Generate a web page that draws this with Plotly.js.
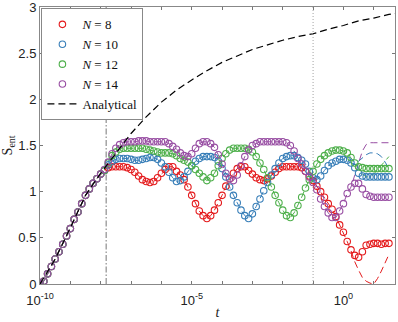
<!DOCTYPE html>
<html>
<head>
<meta charset="utf-8">
<script src="https://cdn.plot.ly/plotly-3.0.1.min.js"></script>
<style>
  body { margin: 0; background: #fff; }
  #plot { width: 398px; height: 322px; }
</style>
</head>
<body>
<div id="plot"></div>
<script>
// time grid: log10(t) from -10 in steps of 1/8 decade
const LOG_T0 = -10;
const LOG_STEP = 0.125;

// shared early growth (all N coincide up to ~1e-8)
const sEarly = [0.00, 0.03, 0.11, 0.19, 0.27, 0.35, 0.43, 0.52, 0.60, 0.70,
                0.78, 0.87, 0.96, 1.03, 1.09, 1.14, 1.19];

// numerical points after the split
const s8 = [1.23, 1.26, 1.27, 1.27, 1.27, 1.27, 1.26, 1.24, 1.21, 1.17,
            1.13, 1.11, 1.10, 1.11, 1.15, 1.20, 1.24, 1.27, 1.27, 1.22,
            1.18, 1.13, 1.05, 0.96, 0.87, 0.79, 0.74, 0.71, 0.74, 0.80,
            0.88, 0.96, 1.06, 1.14, 1.20, 1.25, 1.27, 1.27, 1.23, 1.19,
            1.15, 1.13, 1.12, 1.14, 1.17, 1.21, 1.25, 1.27, 1.27, 1.27,
            1.27, 1.27, 1.26, 1.22, 1.17, 1.12, 1.06, 1.00, 0.94, 0.87,
            0.81, 0.73, 0.64, 0.56, 0.46, 0.37, 0.31, 0.29, 0.35, 0.42,
            0.43, 0.44, 0.44, 0.43, 0.44, 0.44];
const s10 = [1.23, 1.29, 1.33, 1.35, 1.36, 1.36, 1.36, 1.35, 1.34, 1.34,
             1.35, 1.36, 1.37, 1.37, 1.35, 1.31, 1.27, 1.21, 1.15, 1.11,
             1.12, 1.16, 1.22, 1.28, 1.33, 1.36, 1.38, 1.38, 1.38, 1.37,
             1.33, 1.25, 1.16, 1.05, 0.96, 0.88, 0.80, 0.74, 0.71, 0.76,
             0.84, 0.92, 1.01, 1.10, 1.18, 1.25, 1.31, 1.36, 1.38, 1.39,
             1.39, 1.37, 1.34, 1.30, 1.22, 1.15, 1.13, 1.17, 1.23, 1.28,
             1.31, 1.33, 1.35, 1.35, 1.34, 1.31, 1.26, 1.20, 1.17, 1.16,
             1.16, 1.16, 1.16, 1.16, 1.16, 1.16];
const s12 = [1.23, 1.31, 1.39, 1.43, 1.46, 1.47, 1.47, 1.47, 1.47, 1.47,
             1.47, 1.46, 1.45, 1.44, 1.43, 1.42, 1.42, 1.42, 1.41, 1.39,
             1.36, 1.34, 1.32, 1.28, 1.24, 1.20, 1.16, 1.12, 1.15, 1.20,
             1.28, 1.36, 1.41, 1.45, 1.47, 1.47, 1.47, 1.47, 1.46, 1.43,
             1.38, 1.31, 1.24, 1.15, 1.05, 0.96, 0.88, 0.80, 0.74, 0.72,
             0.77, 0.85, 0.94, 1.04, 1.13, 1.22, 1.30, 1.35, 1.39, 1.42,
             1.44, 1.45, 1.45, 1.44, 1.42, 1.37, 1.31, 1.27, 1.26, 1.25,
             1.25, 1.25, 1.25, 1.25, 1.25, 1.25];
const s14 = [1.24, 1.32, 1.41, 1.47, 1.51, 1.53, 1.54, 1.54, 1.54, 1.55,
             1.55, 1.55, 1.54, 1.54, 1.54, 1.54, 1.54, 1.52, 1.49, 1.46,
             1.42, 1.39, 1.38, 1.41, 1.47, 1.52, 1.54, 1.54, 1.52, 1.48,
             1.40, 1.30, 1.20, 1.14, 1.12, 1.18, 1.28, 1.38, 1.45, 1.50,
             1.52, 1.54, 1.54, 1.54, 1.54, 1.54, 1.54, 1.54, 1.53, 1.50,
             1.44, 1.36, 1.30, 1.22, 1.16, 1.10, 1.02, 0.92, 0.84, 0.77,
             0.72, 0.72, 0.79, 0.87, 0.98, 1.05, 1.09, 1.09, 1.03, 0.97,
             0.95, 0.94, 0.94, 0.94, 0.94, 0.94];

// dashed curves follow the points, then split off over the last 11 samples
const TAIL_START = 82;
const tail8  = [0.36, 0.24, 0.15, 0.07, 0.03, 0.01, 0.00, 0.06, 0.14, 0.23, 0.32];
const tail10 = [1.31, 1.30, 1.33, 1.37, 1.40, 1.42, 1.42, 1.41, 1.38, 1.32, 1.25];
const tail12 = [1.37, 1.31, 1.25, 1.19, 1.16, 1.16, 1.19, 1.24, 1.29, 1.34, 1.38];
const tail14 = [1.05, 1.18, 1.32, 1.44, 1.51, 1.53, 1.53, 1.53, 1.53, 1.53, 1.53];

// analytical curve
const anaLogT = [-10, -9.5, -9, -8.5, -8, -7.5, -7, -6.5, -6, -5.5, -5, -4.5,
                 -4, -3.5, -3, -2.5, -2, -1.5, -1, -0.5, 0, 0.5, 1, 1.5, 1.7];
const anaS = [0.00, 0.27, 0.61, 0.96, 1.20, 1.42, 1.63, 1.81, 1.97, 2.10, 2.21, 2.31,
              2.40, 2.47, 2.54, 2.59, 2.64, 2.68, 2.71, 2.76, 2.80, 2.85, 2.88, 2.92, 2.93];

// reference times (vertical guides)
const tDashDot = Math.pow(10, -7.82);
const tDotted = 0.1;

const xTickVals = [1e-10, 1e-9, 1e-8, 1e-7, 1e-6, 1e-5, 1e-4, 1e-3, 1e-2, 1e-1, 1, 10];
const xTickText = ['10<sup>-10</sup>', '', '', '', '', '10<sup>-5</sup>', '', '', '', '', '10<sup>0</sup>', ''];
const yTickVals = [0, 0.5, 1, 1.5, 2, 2.5, 3];
const yTickText = ['0', '0.5', '1', '1.5', '2', '2.5', '3'];

const series = [
    { label: '<i>N</i> = 8',  color: '#e41a1c', pts: s8,  tail: tail8 },
    { label: '<i>N</i> = 10', color: '#377eb8', pts: s10, tail: tail10 },
    { label: '<i>N</i> = 12', color: '#4daf4a', pts: s12, tail: tail12 },
    { label: '<i>N</i> = 14', color: '#984ea3', pts: s14, tail: tail14 }
];

function timeGrid(n) {
    let t = [];
    for (let i = 0; i < n; i++) t.push(Math.pow(10, LOG_T0 + i * LOG_STEP));
    return t;
}

let guides = [
    {
        x: [tDashDot, tDashDot], y: [0, 3], mode: 'lines', type: 'scatter',
        line: { color: '#666', width: 0.9, dash: '6px,2px,1.5px,2px' },
        showlegend: false, hoverinfo: 'skip'
    },
    {
        x: [tDotted, tDotted], y: [0, 3], mode: 'lines', type: 'scatter',
        line: { color: '#999', width: 0.9, dash: '1px,2px' },
        showlegend: false, hoverinfo: 'skip'
    }
];

let lines = [];
let points = [];
series.forEach(function (s) {
    let y = sEarly.concat(s.pts);
    let t = timeGrid(y.length);
    let yLine = y.slice(0, TAIL_START).concat(s.tail);
    lines.push({
        x: timeGrid(yLine.length), y: yLine, mode: 'lines', type: 'scatter',
        line: { color: s.color, width: 1, dash: '7px,4px' },
        showlegend: false, hoverinfo: 'skip'
    });
    points.push({
        name: s.label, x: t, y: y, mode: 'markers', type: 'scatter',
        marker: { symbol: 'circle-open', size: 6.5, color: s.color, line: { width: 1.1 } }
    });
});

let analytical = {
    name: 'Analytical',
    x: anaLogT.map(v => Math.pow(10, v)),
    y: anaS,
    mode: 'lines', type: 'scatter',
    line: { color: '#000', width: 1.2, dash: '7px,4px' }
};

let layout = {
    width: 398,
    height: 322,
    margin: { l: 40, r: 3, t: 7, b: 38 },
    paper_bgcolor: '#fff',
    plot_bgcolor: '#fff',
    font: { family: 'Liberation Sans, Arial, sans-serif', size: 13, color: '#222' },
    showlegend: true,
    xaxis: {
        type: 'log',
        range: [-10, 1.7],
        tickmode: 'array',
        tickvals: xTickVals,
        ticktext: xTickText,
        ticks: 'inside',
        ticklen: 3,
        tickcolor: '#777',
        ticklabelstandoff: 4,
        ticklabeloverflow: 'allow',
        showline: true,
        linecolor: '#888',
        mirror: 'ticks',
        showgrid: false,
        zeroline: false,
        title: { text: '<i>t</i>', font: { family: 'Liberation Serif, serif', size: 14 }, standoff: 0 }
    },
    yaxis: {
        range: [0, 3],
        tickmode: 'array',
        tickvals: yTickVals,
        ticktext: yTickText,
        ticks: 'inside',
        ticklen: 3,
        tickcolor: '#777',
        ticklabeloverflow: 'allow',
        showline: true,
        linecolor: '#888',
        mirror: 'ticks',
        showgrid: false,
        zeroline: false,
        title: { text: 'S<sub>ent</sub>', font: { family: 'Liberation Serif, serif', size: 14 }, standoff: 4 }
    },
    legend: {
        x: 0.004, y: 0.995, xanchor: 'left', yanchor: 'top',
        bgcolor: '#fff', bordercolor: '#888', borderwidth: 1,
        font: { family: 'Liberation Serif, serif', size: 13, color: '#111' },
        tracegroupgap: 0
    }
};

Plotly.newPlot(document.getElementById('plot'), guides.concat(lines, points, [analytical]), layout, { displayModeBar: false, staticPlot: true });
</script>
</body>
</html>
